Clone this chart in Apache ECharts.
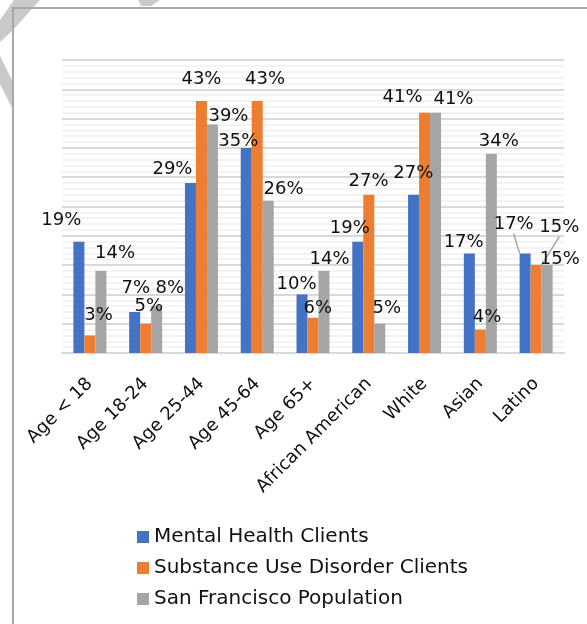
<!DOCTYPE html>
<html>
<head>
<meta charset="utf-8">
<script src="https://cdn.jsdelivr.net/npm/echarts@6/dist/echarts.min.js"></script>
<style>
  html, body { margin: 0; padding: 0; background: #fff; }
  #chart { width: 587px; height: 624px; }
</style>
</head>
<body>
<div id="chart"></div>
<script>
// Client groups vs. city population, percent by age and ethnicity
const categories = ['Age < 18', 'Age 18-24', 'Age 25-44', 'Age 45-64', 'Age 65+',
  'African American', 'White', 'Asian', 'Latino'];
const seriesNames = ['Mental Health Clients', 'Substance Use Disorder Clients', 'San Francisco Population'];
const mentalHealth = [19, 7, 29, 35, 10, 19, 27, 17, 17];
const substanceUse = [3, 5, 43, 43, 6, 27, 41, 4, 15];
const sfPopulation = [14, 8, 39, 26, 14, 5, 41, 34, 15];
const axisMax = 50;
const axisStep = 5;

// Hand-placed label nudges (dx, dy in px) relative to the top of each bar
const mhNudge = [[-17.6, -12.7], [1.2, -15], [-18, -5.1], [-7.9, 2.8], [-5.5, -1.1], [-7.9, -4.7], [-0.3, -12.3], [-5.7, -2.4], [-11.4, -19.7]];
const sudNudge = [[8.6, -11.4], [3.2, -8.7], [0, -13], [7.9, -13], [4.8, -0.5], [-0.2, -4.3], [-22, -6.7], [6.8, -2.9], [23.2, -28.4]];
const sfNudge = [[14.1, -9], [13.2, -9.1], [16, 0.5], [15.4, -2.6], [5.5, -3], [7.1, -6.4], [17.9, -4.4], [7.5, -3.5], [12.7, 3.2]];
// Labels that keep a leader line back to their bar
const leaderMh = [8];
const leaderSud = [8];

const colors = ['#4472C4', '#ED7D31', '#A5A5A5'];
const FONT = 'DejaVu Sans';

function buildSeries(name, values, color, nudge, leaders) {
  return {
    name: name,
    type: 'bar',
    barWidth: 11,
    barGap: '0%',
    itemStyle: { color: color },
    data: values.map(function (v, i) {
      const item = { value: v };
      if (leaders.indexOf(i) >= 0) {
        item.labelLine = { show: true, lineStyle: { color: '#a6a6a6', width: 1.5 } };
      }
      return item;
    }),
    label: {
      show: true,
      position: 'top',
      distance: 0,
      fontFamily: FONT,
      fontSize: 18,
      color: '#111',
      formatter: function (p) { return p.value + '%'; }
    },
    labelLine: { show: false, lineStyle: { color: '#a6a6a6', width: 1.5 } },
    labelLayout: function (p) {
      const n = nudge[p.dataIndex];
      return { dx: n[0], dy: n[1] };
    }
  };
}

const chart = echarts.init(document.getElementById('chart'), null, { renderer: 'canvas' });
chart.setOption({
  animation: false,
  backgroundColor: '#fff',
  textStyle: { fontFamily: FONT },
  grid: { left: 62, right: 23, top: 60, bottom: 271, containLabel: false },
  legend: {
    orient: 'vertical',
    left: 137,
    top: 527,
    padding: 0,
    itemWidth: 12,
    itemHeight: 12,
    itemGap: 11,
    icon: 'rect',
    textStyle: { fontFamily: FONT, fontSize: 20, color: '#111' },
    data: seriesNames
  },
  xAxis: {
    type: 'category',
    data: categories,
    axisTick: { show: false },
    axisLine: { show: true, lineStyle: { color: '#d9d9d9', width: 2 } },
    axisLabel: {
      interval: 0,
      rotate: 45,
      margin: 28,
      fontFamily: FONT,
      fontSize: 18,
      color: '#111'
    }
  },
  yAxis: {
    type: 'value',
    min: 0,
    max: axisMax,
    interval: axisStep,
    axisLabel: { show: false },
    axisLine: { show: false },
    axisTick: { show: false },
    splitLine: { show: true, lineStyle: { color: '#d9d9d9', width: 2 } },
    minorTick: { show: false, splitNumber: 5 },
    minorSplitLine: { show: true, lineStyle: { color: '#efefef', width: 1.5 } }
  },
  graphic: [
    // faint folded-corner shapes at the top left
    { type: 'polygon', silent: true, z: -1, shape: { points: [[14, 0], [40, 0], [13, 30], [0, 42], [0, 20]] }, style: { fill: '#cacaca' } },
    { type: 'polygon', silent: true, z: -1, shape: { points: [[0, 56], [0, 84], [13, 110], [13, 82]] }, style: { fill: '#cacaca' } },
    { type: 'polygon', silent: true, z: -1, shape: { points: [[138, 0], [160, 0], [151, 6], [141, 6]] }, style: { fill: '#cacaca' } },
    // frame edges
    { type: 'polyline', silent: true, shape: { points: [[13, 624], [13, 8], [587, 8]] }, style: { stroke: '#a8a8a8', lineWidth: 2, fill: null } }
  ],
  series: [
    buildSeries(seriesNames[0], mentalHealth, colors[0], mhNudge, leaderMh),
    buildSeries(seriesNames[1], substanceUse, colors[1], sudNudge, leaderSud),
    buildSeries(seriesNames[2], sfPopulation, colors[2], sfNudge, [])
  ]
});
</script>
</body>
</html>
